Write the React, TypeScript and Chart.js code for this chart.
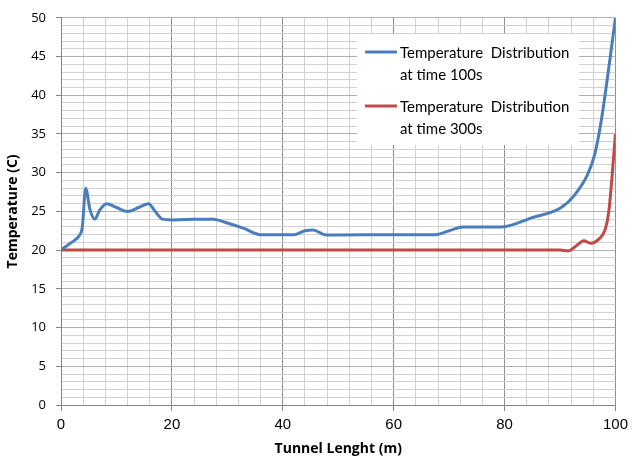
import React, { useEffect, useRef } from "react";
import { Chart, registerables } from "chart.js";

Chart.register(...registerables);

const blueX = [0, 1.3, 2.5, 3.2, 3.85, 4.45, 5.2, 6.1, 7, 8.2, 10, 12, 14, 15.8, 17, 18.3, 20, 24, 27.5, 30, 33, 36, 42, 44, 45.5, 47.5, 50, 60, 67.5, 70, 72.5, 76, 79.5, 85, 90, 92.5, 95, 96.3, 97.5, 98.5, 100];
const blueY = [20, 20.7, 21.3, 21.8, 23, 28, 25.3, 24, 25.2, 26, 25.5, 25, 25.5, 26, 25, 24, 23.9, 24, 24, 23.5, 22.8, 22, 22, 22.5, 22.6, 22, 21.95, 22, 22, 22.5, 23, 23, 23, 24.2, 25.4, 27, 29.8, 32.5, 37, 42, 50];
const redX = [0, 90, 91.5, 93, 94.3, 95.5, 96.8, 98.2, 98.8, 100];
const redY = [20, 20, 19.9, 20.6, 21.2, 20.9, 21.3, 22.8, 25, 35];

const seriesLabels = [
  ["Temperature  Distribution", "at time 100s"],
  ["Temperature  Distribution", "at time 300s"],
];
const seriesColors = ["#4A7EBB", "#BE4B48"];

const xTitle = "Tunnel Lenght (m)";
const yTitle = "Temperature (C)";

const legendPlugin = {
  id: "insideLegend",
  afterDraw(chart: any) {
    const ctx = chart.ctx;
    ctx.save();
    ctx.fillStyle = "#ffffff";
    ctx.fillRect(357, 34, 222, 111);
    ctx.font = "15px Lato";
    ctx.textBaseline = "middle";
    ctx.textAlign = "left";
    chart.data.datasets.forEach((ds: any, i: number) => {
      const y0 = 52 + i * 54;
      ctx.strokeStyle = ds.borderColor;
      ctx.lineWidth = 3;
      ctx.beginPath();
      ctx.moveTo(365, y0);
      ctx.lineTo(397, y0);
      ctx.stroke();
      ctx.fillStyle = "#000000";
      (ds.label as string[]).forEach((t: string, j: number) => {
        ctx.fillText(t, 400, y0 + 1 + j * 22);
      });
    });
    ctx.restore();
  },
};

export default function App() {
  const ref = useRef<HTMLCanvasElement | null>(null);
  useEffect(() => {
    if (!ref.current) return;
    const chart = new Chart(ref.current, {
      type: "line",
      data: {
        datasets: [
          {
            label: seriesLabels[0] as any,
            data: blueX.map((x, i) => ({ x, y: blueY[i] })),
            borderColor: seriesColors[0],
            borderWidth: 3,
            pointRadius: 0,
            cubicInterpolationMode: "monotone",
            fill: false,
          },
          {
            label: seriesLabels[1] as any,
            data: redX.map((x, i) => ({ x, y: redY[i] })),
            borderColor: seriesColors[1],
            borderWidth: 3,
            pointRadius: 0,
            cubicInterpolationMode: "monotone",
            fill: false,
          },
        ],
      },
      options: {
        responsive: false,
        animation: false,
        layout: { padding: { top: 16, right: 17, left: 0, bottom: 0 } },
        plugins: { legend: { display: false }, tooltip: { enabled: false } },
        scales: {
          x: {
            type: "linear",
            min: 0,
            max: 100,
            afterFit: (s: any) => { s.height = 63; },
            ticks: {
              stepSize: 4,
              autoSkip: false,
              maxRotation: 0,
              padding: 5,
              color: "#000",
              font: { family: "Liberation Sans", size: 15 },
              callback: (v: any) => (Number(v) % 20 === 0 ? String(v) : ""),
            },
            grid: {
              color: (c: any) => (c.tick && c.tick.value % 20 === 0 ? "#8e8e8e" : "#d2d2d2"),
              tickColor: (c: any) => (c.tick && c.tick.value % 20 === 0 ? "#868686" : "rgba(0,0,0,0)"),
              tickLength: 6,
            },
            border: { color: "#868686", width: 1 },
            title: {
              display: true,
              text: xTitle,
              color: "#000",
              font: { family: "Open Sans", size: 14, weight: "bold" },
              padding: { top: 0, bottom: 11 },
            },
          },
          y: {
            type: "linear",
            min: 0,
            max: 50,
            afterFit: (s: any) => { s.width = 61; },
            ticks: {
              stepSize: 1,
              autoSkip: false,
              padding: 10,
              color: "#000",
              font: { family: "Open Sans", size: 13 },
              callback: (v: any) => (Number(v) % 5 === 0 ? String(v) : ""),
            },
            grid: {
              color: (c: any) => (c.tick && c.tick.value % 5 === 0 ? "#b0b0b0" : "#d2d2d2"),
              tickColor: (c: any) => (c.tick && c.tick.value % 5 === 0 ? "#868686" : "rgba(0,0,0,0)"),
              tickLength: 5,
            },
            border: { color: "#868686", width: 1 },
            title: {
              display: true,
              text: yTitle,
              color: "#000",
              font: { family: "Open Sans", size: 14, weight: "bold" },
              padding: { top: 5, bottom: 0 },
            },
          },
        },
      },
      plugins: [legendPlugin],
    } as any);
    return () => chart.destroy();
  }, []);
  return (
    <div style={{ position: "absolute", left: 0, top: 0, width: 633, height: 468, background: "#fff" }}>
      <canvas ref={ref} width={633} height={468} />
    </div>
  );
}
